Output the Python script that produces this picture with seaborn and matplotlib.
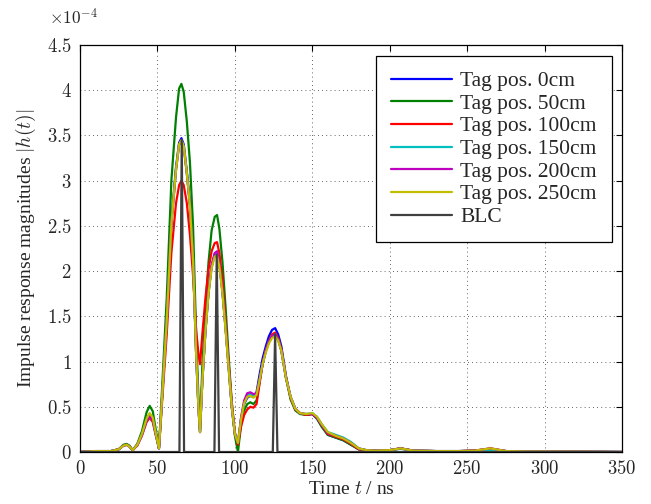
import numpy as np
import pandas as pd
import matplotlib
matplotlib.use("Agg")
import matplotlib.pyplot as plt
import seaborn as sns
from matplotlib.ticker import FuncFormatter

# ---------------- data (values in units of 1e-4) ----------------
t = [0, 5, 10, 15, 20, 25, 28, 30, 32, 34,
     37, 40, 43, 45, 47, 49, 51, 53, 56, 59,
     62, 64, 65.5, 67, 69, 71, 73, 75, 76.5, 77.5,
     79, 81, 83, 85, 87, 88.5, 90, 92, 94, 96,
     98, 100, 102, 104, 106, 108, 110, 112, 114, 116,
     118, 120, 122, 124, 126, 128, 130, 133, 136, 139,
     142, 146, 150, 153, 156, 160, 165, 170, 175, 180,
     185, 190, 200, 207, 215, 230, 245, 255, 265, 275,
     290, 320, 350]

tag_0cm = [0, 0.005, 0.01, 0.01, 0.01, 0.03, 0.07, 0.08, 0.06, 0.02,
           0.08, 0.2, 0.36, 0.42, 0.37, 0.2, 0.04, 0.6, 1.45, 2.55,
           3.15, 3.42, 3.47, 3.4, 3.1, 2.75, 2.15, 1.1, 0.5, 0.22,
           0.8, 1.35, 1.77, 2.05, 2.19, 2.2, 2.08, 1.78, 1.38, 0.95,
           0.5, 0.2, 0.08, 0.36, 0.53, 0.6, 0.62, 0.61, 0.66, 0.86,
           1.04, 1.17, 1.28, 1.35, 1.37, 1.3, 1.17, 0.84, 0.6, 0.48,
           0.43, 0.41, 0.42, 0.37, 0.29, 0.19, 0.16, 0.13, 0.08, 0.03,
           0.02, 0.015, 0.02, 0.04, 0.015, 0.01, 0.01, 0.015, 0.03, 0.01,
           0.005, 0.003, 0]

tag_50cm = [0, 0.005, 0.01, 0.01, 0.01, 0.03, 0.08, 0.09, 0.07, 0.02,
            0.09, 0.23, 0.44, 0.51, 0.45, 0.24, 0.05, 0.7, 1.7, 3.0,
            3.7, 4.02, 4.07, 3.98, 3.65, 3.2, 2.5, 1.3, 0.6, 0.25,
            0.95, 1.6, 2.1, 2.45, 2.6, 2.62, 2.47, 2.1, 1.6, 1.05,
            0.55, 0.18, 0.0, 0.3, 0.46, 0.53, 0.55, 0.53, 0.57, 0.78,
            0.98, 1.12, 1.22, 1.28, 1.3, 1.25, 1.13, 0.82, 0.58, 0.46,
            0.42, 0.41, 0.42, 0.37, 0.28, 0.19, 0.16, 0.13, 0.08, 0.03,
            0.02, 0.015, 0.02, 0.04, 0.015, 0.01, 0.01, 0.015, 0.035, 0.01,
            0.005, 0.003, 0]

tag_100cm = [0, 0.005, 0.01, 0.01, 0.01, 0.03, 0.07, 0.08, 0.06, 0.02,
             0.07, 0.18, 0.33, 0.38, 0.33, 0.18, 0.04, 0.55, 1.3, 2.2,
             2.75, 2.95, 3.0, 2.95, 2.75, 2.4, 1.95, 1.35, 1.08, 0.97,
             1.3, 1.7, 2.02, 2.22, 2.31, 2.32, 2.2, 1.9, 1.45, 0.98,
             0.55, 0.22, 0.08, 0.28, 0.41, 0.47, 0.5, 0.49, 0.53, 0.76,
             0.98, 1.13, 1.23, 1.3, 1.32, 1.26, 1.14, 0.83, 0.6, 0.47,
             0.43, 0.41, 0.42, 0.38, 0.3, 0.2, 0.17, 0.14, 0.09, 0.03,
             0.02, 0.015, 0.02, 0.04, 0.015, 0.01, 0.01, 0.015, 0.04, 0.01,
             0.005, 0.003, 0]

tag_150cm = [0, 0.005, 0.01, 0.01, 0.01, 0.03, 0.07, 0.08, 0.06, 0.02,
             0.08, 0.19, 0.35, 0.4, 0.35, 0.19, 0.04, 0.6, 1.45, 2.52,
             3.12, 3.4, 3.44, 3.37, 3.08, 2.72, 2.12, 1.08, 0.48, 0.22,
             0.78, 1.33, 1.76, 2.05, 2.18, 2.2, 2.07, 1.77, 1.37, 0.93,
             0.5, 0.2, 0.1, 0.37, 0.55, 0.62, 0.64, 0.62, 0.64, 0.8,
             0.98, 1.12, 1.22, 1.28, 1.3, 1.24, 1.12, 0.82, 0.61, 0.48,
             0.43, 0.42, 0.43, 0.39, 0.31, 0.22, 0.19, 0.16, 0.11, 0.04,
             0.02, 0.015, 0.02, 0.035, 0.015, 0.01, 0.01, 0.01, 0.02, 0.01,
             0.005, 0.003, 0]

tag_200cm = [0, 0.005, 0.01, 0.01, 0.01, 0.03, 0.07, 0.08, 0.06, 0.02,
             0.08, 0.19, 0.35, 0.4, 0.35, 0.19, 0.04, 0.6, 1.45, 2.52,
             3.12, 3.4, 3.44, 3.37, 3.08, 2.72, 2.12, 1.08, 0.48, 0.22,
             0.78, 1.33, 1.77, 2.07, 2.2, 2.22, 2.08, 1.77, 1.37, 0.93,
             0.5, 0.2, 0.1, 0.38, 0.57, 0.65, 0.66, 0.64, 0.65, 0.8,
             0.98, 1.12, 1.22, 1.28, 1.3, 1.24, 1.12, 0.82, 0.61, 0.48,
             0.43, 0.42, 0.42, 0.38, 0.3, 0.21, 0.18, 0.15, 0.1, 0.04,
             0.02, 0.015, 0.02, 0.04, 0.015, 0.01, 0.01, 0.015, 0.04, 0.01,
             0.005, 0.003, 0]

tag_250cm = [0, 0.005, 0.01, 0.01, 0.01, 0.03, 0.07, 0.08, 0.06, 0.02,
             0.08, 0.2, 0.37, 0.43, 0.38, 0.2, 0.04, 0.6, 1.45, 2.52,
             3.12, 3.4, 3.45, 3.38, 3.08, 2.72, 2.12, 1.08, 0.48, 0.22,
             0.78, 1.33, 1.75, 2.03, 2.16, 2.17, 2.05, 1.75, 1.35, 0.92,
             0.5, 0.2, 0.1, 0.36, 0.54, 0.61, 0.62, 0.6, 0.63, 0.8,
             0.98, 1.1, 1.2, 1.26, 1.28, 1.23, 1.12, 0.82, 0.61, 0.48,
             0.43, 0.42, 0.43, 0.39, 0.31, 0.22, 0.18, 0.15, 0.1, 0.04,
             0.02, 0.015, 0.02, 0.04, 0.015, 0.01, 0.01, 0.015, 0.04, 0.01,
             0.005, 0.003, 0]

blc_t = [0, 64.2, 65.7, 67.2, 86.8, 88.3, 89.8, 124.5, 126.0, 127.5, 350]
blc_v = [0, 0, 3.45, 0, 0, 2.18, 0, 0, 1.3, 0, 0]

labels = ["Tag pos. 0cm", "Tag pos. 50cm", "Tag pos. 100cm",
          "Tag pos. 150cm", "Tag pos. 200cm", "Tag pos. 250cm", "BLC"]
colors = ["#0000ff", "#008000", "#ff0000", "#00bfbf", "#bf00bf", "#bfbf00", "#404040"]
x_ticks = [0, 50, 100, 150, 200, 250, 300, 350]
y_ticks = [0, 0.5, 1, 1.5, 2, 2.5, 3, 3.5, 4, 4.5]

# ---------------- build long table ----------------
series = [tag_0cm, tag_50cm, tag_100cm, tag_150cm, tag_200cm, tag_250cm]
frames = []
for lab, vals in zip(labels[:6], series):
    frames.append(pd.DataFrame({"t": t, "h": vals, "series": lab}))
frames.append(pd.DataFrame({"t": blc_t, "h": blc_v, "series": "BLC"}))
df = pd.concat(frames, ignore_index=True)

# ---------------- style ----------------
sns.set_style("white")
plt.rcParams["font.family"] = ["Liberation Serif", "DejaVu Serif"]
plt.rcParams["mathtext.fontset"] = "cm"

fig = plt.figure(figsize=(6.51, 5.04), dpi=100)
ax = fig.add_axes([80 / 651, 1 - 452 / 504, 542 / 651, 407 / 504])

sns.lineplot(data=df, x="t", y="h", hue="series", hue_order=labels,
             palette=dict(zip(labels, colors)), estimator=None, sort=False,
             linewidth=1.6, ax=ax, legend=False)

ax.set_xlim(0, 350)
ax.set_ylim(0, 4.5)
ax.set_xticks(x_ticks)
ax.set_yticks(y_ticks)
fmt = FuncFormatter(lambda v, p: r"$%g$" % v)
ax.xaxis.set_major_formatter(fmt)
ax.yaxis.set_major_formatter(fmt)
ax.tick_params(direction="in", length=4, width=0.8, top=True, right=True,
               labelsize=13.5, pad=6, color="black")
ax.grid(True, which="major", linestyle=(0, (1, 4)), color="black", linewidth=0.6, alpha=0.8)
for s in ax.spines.values():
    s.set_color("black")
    s.set_linewidth(0.9)

ax.set_xlabel(r"Time $t$ / ns", fontsize=14, labelpad=2)
ax.set_ylabel(r"Impulse response magnitudes $|h(t)|$", fontsize=14, labelpad=6)
fig.text(49 / 651, 1 - 18 / 504, r"$\times10^{-4}$", fontsize=12.5, ha="left", va="center")

handles = [plt.Line2D([], [], color=c, linewidth=1.6) for c in colors]
leg = ax.legend(handles, labels, loc="upper right", bbox_to_anchor=(612 / 651, 1 - 56 / 504),
                bbox_transform=fig.transFigure, fontsize=15.5, frameon=True, fancybox=False,
                edgecolor="black", framealpha=1, borderaxespad=0, handlelength=2.8,
                labelspacing=0.12, handletextpad=0.4, borderpad=0.7)
leg.get_frame().set_linewidth(0.9)

fig.savefig("out.png", dpi=100)
